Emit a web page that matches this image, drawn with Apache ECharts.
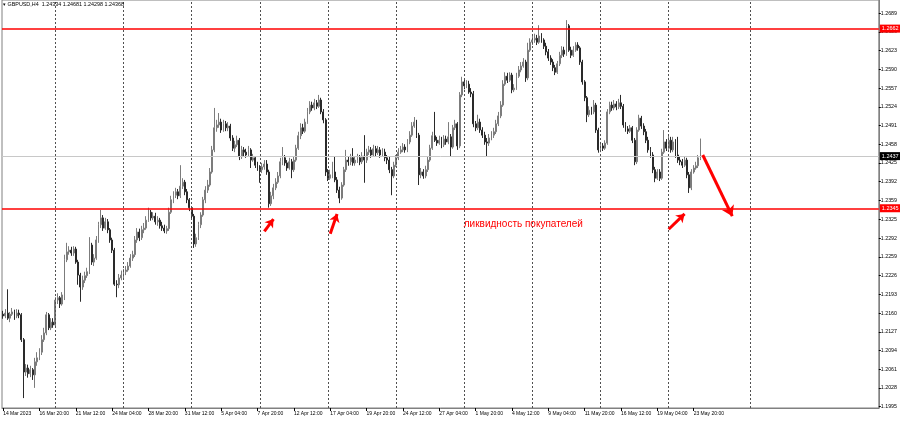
<!DOCTYPE html>
<html><head><meta charset="utf-8">
<script src="https://cdn.jsdelivr.net/npm/echarts@6/dist/echarts.min.js"></script>
<style>html,body{margin:0;padding:0;background:#fff}#c{width:900px;height:424px}</style>
</head><body><div id="c"></div>
<script>
const symbolName = 'GBPUSD,H4';
const headerQuote = [1.24334, 1.24681, 1.24298, 1.24368];

const open = [
1.2158,1.2155,1.2160,1.2151,1.2158,1.2162,1.2155,1.2160,1.2157,1.2113,
1.2056,1.2063,1.2053,1.2060,1.2051,1.2074,1.2081,1.2091,1.2113,1.2125,
1.2157,1.2134,1.2144,1.2139,1.2183,1.2187,1.2176,1.2192,1.2254,1.2268,
1.2271,1.2266,1.2273,1.2250,1.2227,1.2206,1.2218,1.2226,1.2233,1.2280,
1.2250,1.2257,1.2289,1.2316,1.2328,1.2310,1.2321,1.2307,1.2289,1.2271,
1.2211,1.2210,1.2222,1.2227,1.2233,1.2236,1.2243,1.2257,1.2263,1.2289,
1.2303,1.2293,1.2307,1.2310,1.2324,1.2338,1.2328,1.2331,1.2321,1.2324,
1.2314,1.2310,1.2305,1.2309,1.2338,1.2360,1.2368,1.2374,1.2367,1.2384,
1.2391,1.2374,1.2360,1.2346,1.2331,1.2282,1.2293,1.2316,1.2333,1.2360,
1.2377,1.2386,1.2409,1.2448,1.2487,1.2492,1.2497,1.2483,1.2494,1.2487,
1.2490,1.2469,1.2451,1.2457,1.2465,1.2436,1.2448,1.2444,1.2439,1.2448,
1.2430,1.2434,1.2421,1.2416,1.2413,1.2418,1.2423,1.2409,1.2353,1.2367,
1.2381,1.2391,1.2402,1.2427,1.2434,1.2425,1.2416,1.2427,1.2413,1.2430,
1.2451,1.2473,1.2487,1.2481,1.2497,1.2515,1.2527,1.2522,1.2531,1.2525,
1.2536,1.2515,1.2501,1.2409,1.2398,1.2404,1.2409,1.2395,1.2377,1.2363,
1.2386,1.2413,1.2430,1.2427,1.2434,1.2425,1.2430,1.2434,1.2427,1.2437,
1.2430,1.2444,1.2448,1.2439,1.2450,1.2443,1.2448,1.2439,1.2444,1.2434,
1.2430,1.2413,1.2402,1.2421,1.2434,1.2444,1.2448,1.2453,1.2448,1.2462,
1.2474,1.2490,1.2497,1.2474,1.2404,1.2409,1.2402,1.2413,1.2430,1.2451,
1.2473,1.2465,1.2460,1.2465,1.2457,1.2467,1.2462,1.2471,1.2453,1.2487,
1.2494,1.2455,1.2545,1.2568,1.2561,1.2564,1.2550,1.2547,1.2494,1.2487,
1.2497,1.2483,1.2474,1.2462,1.2460,1.2469,1.2474,1.2480,1.2494,1.2508,
1.2527,1.2564,1.2578,1.2571,1.2580,1.2554,1.2557,1.2578,1.2589,1.2596,
1.2603,1.2575,1.2624,1.2638,1.2642,1.2645,1.2638,1.2649,1.2642,1.2631,
1.2621,1.2610,1.2603,1.2593,1.2585,1.2600,1.2615,1.2624,1.2617,1.2667,
1.2624,1.2615,1.2624,1.2633,1.2628,1.2603,1.2568,1.2540,1.2510,1.2518,
1.2515,1.2527,1.2483,1.2448,1.2455,1.2451,1.2460,1.2515,1.2527,1.2522,
1.2529,1.2524,1.2531,1.2525,1.2492,1.2485,1.2481,1.2487,1.2465,1.2427,
1.2483,1.2504,1.2490,1.2480,1.2465,1.2448,1.2439,1.2413,1.2398,1.2409,
1.2398,1.2444,1.2462,1.2451,1.2465,1.2448,1.2462,1.2439,1.2430,1.2427,
1.2421,1.2430,1.2404,1.2381,1.2409,1.2416,1.2420,1.2433
];
const high = [
1.2164,1.2167,1.2202,1.2162,1.2169,1.2166,1.2167,1.2166,1.2160,1.2116,
1.2070,1.2069,1.2067,1.2063,1.2081,1.2091,1.2098,1.2121,1.2134,1.2162,
1.2160,1.2151,1.2151,1.2188,1.2195,1.2190,1.2197,1.2263,1.2284,1.2278,
1.2277,1.2278,1.2277,1.2254,1.2231,1.2226,1.2233,1.2240,1.2294,1.2284,
1.2264,1.2296,1.2321,1.2342,1.2333,1.2328,1.2326,1.2310,1.2293,1.2275,
1.2218,1.2229,1.2235,1.2238,1.2243,1.2250,1.2264,1.2270,1.2296,1.2310,
1.2309,1.2314,1.2319,1.2331,1.2346,1.2342,1.2338,1.2337,1.2331,1.2328,
1.2321,1.2316,1.2314,1.2346,1.2367,1.2375,1.2381,1.2379,1.2421,1.2398,
1.2395,1.2379,1.2363,1.2349,1.2335,1.2300,1.2321,1.2338,1.2365,1.2384,
1.2395,1.2416,1.2455,1.2522,1.2501,1.2513,1.2503,1.2501,1.2499,1.2497,
1.2494,1.2474,1.2464,1.2473,1.2469,1.2455,1.2453,1.2450,1.2455,1.2451,
1.2441,1.2437,1.2427,1.2421,1.2425,1.2430,1.2430,1.2413,1.2374,1.2388,
1.2398,1.2409,1.2434,1.2453,1.2439,1.2430,1.2434,1.2432,1.2437,1.2457,
1.2480,1.2495,1.2494,1.2503,1.2522,1.2534,1.2533,1.2538,1.2536,1.2545,
1.2540,1.2520,1.2504,1.2414,1.2413,1.2427,1.2436,1.2400,1.2383,1.2391,
1.2418,1.2448,1.2437,1.2441,1.2451,1.2437,1.2441,1.2439,1.2444,1.2474,
1.2450,1.2455,1.2453,1.2457,1.2455,1.2455,1.2453,1.2451,1.2450,1.2439,
1.2436,1.2418,1.2427,1.2439,1.2451,1.2455,1.2460,1.2458,1.2467,1.2481,
1.2497,1.2506,1.2501,1.2478,1.2416,1.2414,1.2420,1.2436,1.2457,1.2480,
1.2515,1.2471,1.2473,1.2471,1.2474,1.2473,1.2497,1.2476,1.2492,1.2501,
1.2497,1.2550,1.2577,1.2573,1.2571,1.2570,1.2557,1.2552,1.2499,1.2510,
1.2503,1.2488,1.2480,1.2469,1.2476,1.2481,1.2487,1.2501,1.2515,1.2534,
1.2571,1.2585,1.2584,1.2585,1.2584,1.2564,1.2584,1.2596,1.2603,1.2610,
1.2607,1.2637,1.2645,1.2649,1.2653,1.2651,1.2668,1.2654,1.2645,1.2637,
1.2626,1.2615,1.2608,1.2598,1.2605,1.2621,1.2631,1.2630,1.2677,1.2670,
1.2630,1.2631,1.2638,1.2638,1.2631,1.2607,1.2571,1.2543,1.2525,1.2524,
1.2536,1.2531,1.2487,1.2462,1.2460,1.2465,1.2520,1.2533,1.2533,1.2536,
1.2534,1.2538,1.2545,1.2529,1.2497,1.2490,1.2492,1.2490,1.2469,1.2488,
1.2510,1.2508,1.2495,1.2485,1.2471,1.2453,1.2444,1.2418,1.2414,1.2414,
1.2450,1.2483,1.2467,1.2473,1.2471,1.2471,1.2467,1.2471,1.2436,1.2432,
1.2436,1.2434,1.2409,1.2414,1.2421,1.2427,1.2439,1.2468
];
const low = [
1.2150,1.2151,1.2148,1.2144,1.2155,1.2148,1.2151,1.2151,1.2109,1.2010,
1.2049,1.2046,1.2047,1.2042,1.2028,1.2067,1.2077,1.2086,1.2109,1.2121,
1.2130,1.2130,1.2134,1.2137,1.2176,1.2169,1.2173,1.2183,1.2250,1.2263,
1.2261,1.2261,1.2247,1.2210,1.2180,1.2201,1.2213,1.2222,1.2229,1.2245,
1.2243,1.2254,1.2284,1.2310,1.2305,1.2307,1.2301,1.2284,1.2266,1.2208,
1.2188,1.2204,1.2218,1.2222,1.2227,1.2233,1.2240,1.2252,1.2259,1.2284,
1.2287,1.2289,1.2301,1.2307,1.2321,1.2323,1.2324,1.2316,1.2314,1.2309,
1.2305,1.2301,1.2300,1.2305,1.2335,1.2354,1.2363,1.2361,1.2363,1.2379,
1.2368,1.2354,1.2340,1.2326,1.2275,1.2277,1.2289,1.2310,1.2330,1.2354,
1.2372,1.2383,1.2406,1.2444,1.2480,1.2487,1.2478,1.2480,1.2481,1.2481,
1.2464,1.2446,1.2444,1.2453,1.2430,1.2432,1.2437,1.2434,1.2436,1.2416,
1.2427,1.2416,1.2411,1.2390,1.2407,1.2413,1.2404,1.2346,1.2349,1.2361,
1.2377,1.2388,1.2398,1.2421,1.2420,1.2411,1.2413,1.2398,1.2409,1.2427,
1.2448,1.2467,1.2476,1.2478,1.2494,1.2511,1.2517,1.2518,1.2520,1.2522,
1.2511,1.2495,1.2402,1.2393,1.2395,1.2398,1.2391,1.2372,1.2354,1.2360,
1.2383,1.2409,1.2420,1.2421,1.2420,1.2420,1.2425,1.2421,1.2423,1.2390,
1.2425,1.2439,1.2434,1.2436,1.2437,1.2439,1.2434,1.2436,1.2428,1.2423,
1.2407,1.2368,1.2398,1.2418,1.2430,1.2441,1.2444,1.2443,1.2444,1.2458,
1.2471,1.2487,1.2469,1.2386,1.2398,1.2397,1.2398,1.2409,1.2427,1.2448,
1.2462,1.2455,1.2457,1.2451,1.2453,1.2457,1.2458,1.2436,1.2450,1.2483,
1.2448,1.2451,1.2541,1.2555,1.2557,1.2547,1.2541,1.2488,1.2481,1.2483,
1.2478,1.2469,1.2457,1.2436,1.2455,1.2465,1.2469,1.2476,1.2490,1.2504,
1.2524,1.2561,1.2566,1.2568,1.2548,1.2550,1.2554,1.2575,1.2585,1.2593,
1.2568,1.2571,1.2621,1.2633,1.2637,1.2633,1.2635,1.2637,1.2626,1.2615,
1.2605,1.2598,1.2587,1.2580,1.2582,1.2596,1.2610,1.2612,1.2614,1.2621,
1.2610,1.2612,1.2621,1.2623,1.2598,1.2563,1.2534,1.2497,1.2506,1.2510,
1.2511,1.2478,1.2443,1.2444,1.2446,1.2448,1.2457,1.2511,1.2517,1.2518,
1.2518,1.2520,1.2520,1.2487,1.2480,1.2476,1.2478,1.2460,1.2421,1.2423,
1.2480,1.2485,1.2474,1.2460,1.2443,1.2434,1.2407,1.2391,1.2395,1.2393,
1.2395,1.2441,1.2446,1.2448,1.2443,1.2444,1.2434,1.2425,1.2421,1.2416,
1.2418,1.2398,1.2372,1.2377,1.2406,1.2413,1.2416,1.2430
];
const close = [
1.2155,1.2160,1.2151,1.2158,1.2162,1.2155,1.2160,1.2157,1.2113,1.2056,
1.2063,1.2053,1.2060,1.2051,1.2074,1.2081,1.2091,1.2113,1.2125,1.2157,
1.2134,1.2144,1.2139,1.2183,1.2187,1.2176,1.2192,1.2254,1.2268,1.2271,
1.2266,1.2273,1.2250,1.2227,1.2206,1.2218,1.2226,1.2233,1.2280,1.2250,
1.2257,1.2289,1.2316,1.2328,1.2310,1.2321,1.2307,1.2289,1.2271,1.2211,
1.2210,1.2222,1.2227,1.2233,1.2236,1.2243,1.2257,1.2263,1.2289,1.2303,
1.2293,1.2307,1.2310,1.2324,1.2338,1.2328,1.2331,1.2321,1.2324,1.2314,
1.2310,1.2305,1.2309,1.2338,1.2360,1.2368,1.2374,1.2367,1.2384,1.2391,
1.2374,1.2360,1.2346,1.2331,1.2282,1.2293,1.2316,1.2333,1.2360,1.2377,
1.2386,1.2409,1.2448,1.2487,1.2492,1.2497,1.2483,1.2494,1.2487,1.2490,
1.2469,1.2451,1.2457,1.2465,1.2436,1.2448,1.2444,1.2439,1.2448,1.2430,
1.2434,1.2421,1.2416,1.2413,1.2418,1.2423,1.2409,1.2353,1.2367,1.2381,
1.2391,1.2402,1.2427,1.2434,1.2425,1.2416,1.2427,1.2413,1.2430,1.2451,
1.2473,1.2487,1.2481,1.2497,1.2515,1.2527,1.2522,1.2531,1.2525,1.2536,
1.2515,1.2501,1.2409,1.2398,1.2404,1.2409,1.2395,1.2377,1.2363,1.2386,
1.2413,1.2430,1.2427,1.2434,1.2425,1.2430,1.2434,1.2427,1.2437,1.2430,
1.2444,1.2448,1.2439,1.2450,1.2443,1.2448,1.2439,1.2444,1.2434,1.2430,
1.2413,1.2402,1.2421,1.2434,1.2444,1.2448,1.2453,1.2448,1.2462,1.2474,
1.2490,1.2497,1.2474,1.2404,1.2409,1.2402,1.2413,1.2430,1.2451,1.2473,
1.2465,1.2460,1.2465,1.2457,1.2467,1.2462,1.2471,1.2453,1.2487,1.2494,
1.2455,1.2545,1.2568,1.2561,1.2564,1.2550,1.2547,1.2494,1.2487,1.2497,
1.2483,1.2474,1.2462,1.2460,1.2469,1.2474,1.2480,1.2494,1.2508,1.2527,
1.2564,1.2578,1.2571,1.2580,1.2554,1.2557,1.2578,1.2589,1.2596,1.2603,
1.2575,1.2624,1.2638,1.2642,1.2645,1.2638,1.2649,1.2642,1.2631,1.2621,
1.2610,1.2603,1.2593,1.2585,1.2600,1.2615,1.2624,1.2617,1.2667,1.2624,
1.2615,1.2624,1.2633,1.2628,1.2603,1.2568,1.2540,1.2510,1.2518,1.2515,
1.2527,1.2483,1.2448,1.2455,1.2451,1.2460,1.2515,1.2527,1.2522,1.2529,
1.2524,1.2531,1.2525,1.2492,1.2485,1.2481,1.2487,1.2465,1.2427,1.2483,
1.2504,1.2490,1.2480,1.2465,1.2448,1.2439,1.2413,1.2398,1.2409,1.2398,
1.2444,1.2462,1.2451,1.2465,1.2448,1.2462,1.2439,1.2430,1.2427,1.2421,
1.2430,1.2404,1.2381,1.2409,1.2416,1.2420,1.2434,1.2437
];

const slotCount = 386; // bars + empty future slots on the time axis
const tickIdx = [0,16,32,48,64,80,96,112,128,144,160,176,192,208,224,240,256,272,288,304];
const tickLabels = ['14 Mar 2023','16 Mar 20:00','21 Mar 12:00','24 Mar 04:00','28 Mar 20:00',
  '31 Mar 12:00','5 Apr 04:00','7 Apr 20:00','12 Apr 12:00','17 Apr 04:00','19 Apr 20:00',
  '24 Apr 12:00','27 Apr 04:00','1 May 20:00','4 May 12:00','9 May 04:00','11 May 20:00',
  '16 May 12:00','19 May 04:00','23 May 20:00'];
const weekSepIdx = [23,53,83,113,143,173,203,233,263,293,329];
const priceTicks = [1.2689,1.2656,1.2623,1.2590,1.2557,1.2524,1.2491,1.2458,1.2425,1.2392,
  1.2359,1.2325,1.2292,1.2259,1.2226,1.2193,1.2160,1.2127,1.2094,1.2061,1.2028,1.1995];
const levels = [1.2662, 1.2345];
const annotationText = 'ликвидность покупателей';
const annotationPos = [229, 1.2317];
const smallArrows = [
  [[114.7, 1.2304], [118.8, 1.2326]],
  [[144.1, 1.2300], [147.1, 1.2335]],
  [[293.2, 1.2308], [299.5, 1.2335]]
];
const bigArrow = [[307.9, 1.2439], [321.1, 1.2331]];

const categories = Array.from({length: slotCount}, (_, i) => String(i));
const candles = open.map((o, i) => [o, close[i], low[i], high[i]]);
const lastClose = close[close.length - 1];
const FONT = 'Liberation Sans';

const markData = [];
weekSepIdx.forEach(ix => markData.push({
  xAxis: String(ix),
  lineStyle: {color: '#505050', width: 1, type: [2, 2]},
  label: {show: false}
}));
markData.push({
  yAxis: lastClose,
  lineStyle: {color: '#c8c8c8', width: 1, type: 'solid'},
  label: {show: true, position: 'end', distance: 1, formatter: p => p.value.toFixed(4),
    backgroundColor: '#000', color: '#fff', fontSize: 5.5, fontFamily: FONT, padding: [1, 2, 1, 2]}
});
levels.forEach(v => markData.push({
  yAxis: v,
  lineStyle: {color: '#ff0000', width: 1.5, type: 'solid'},
  label: {show: true, position: 'end', distance: 1, formatter: p => p.value.toFixed(4),
    backgroundColor: '#ff0000', color: '#fff', fontSize: 5.5, fontFamily: FONT, padding: [1, 2, 1, 2]}
}));
const arrowStyle = w => ({color: '#ff0000', width: w, type: 'solid'});
smallArrows.forEach(a => markData.push([
  {coord: a[0], symbol: 'none', lineStyle: arrowStyle(3), label: {show: false}},
  {coord: a[1], symbol: 'arrow', symbolSize: 8, lineStyle: arrowStyle(3)}
]));
markData.push([
  {coord: bigArrow[0], symbol: 'none', lineStyle: arrowStyle(3), label: {show: false}},
  {coord: bigArrow[1], symbol: 'arrow', symbolSize: 10, lineStyle: arrowStyle(3)}
]);

const chart = echarts.init(document.getElementById('c'), null, {renderer: 'canvas'});
chart.setOption({
  animation: false,
  backgroundColor: '#ffffff',
  title: {
    text: '\u25BE ' + symbolName + '  ' + headerQuote.map(v => v.toFixed(5)).join(' '),
    left: 3, top: 2, padding: 0,
    textStyle: {fontSize: 5.4, fontWeight: 'normal', color: '#000', fontFamily: FONT}
  },
  grid: {left: 2, right: 20, top: 0, bottom: 16, show: true, borderColor: '#808080', borderWidth: 1, backgroundColor: '#fff'},
  xAxis: {
    type: 'category', data: categories, boundaryGap: true,
    axisLine: {show: true, lineStyle: {color: '#808080'}},
    axisTick: {show: true, alignWithLabel: true, length: 3, interval: (i) => tickIdx.includes(i), lineStyle: {color: '#000'}},
    axisLabel: {show: true, interval: (i) => tickIdx.includes(i), formatter: (v, i) => tickLabels[tickIdx.indexOf(Number(v))],
      align: 'left', margin: 3, fontSize: 5, color: '#000', fontFamily: FONT},
    splitLine: {show: false}
  },
  yAxis: {
    type: 'value', position: 'right', scale: true, min: 1.19925, max: 1.27125,
    axisLine: {show: true, lineStyle: {color: '#808080'}},
    axisTick: {show: true, length: 2, customValues: priceTicks, lineStyle: {color: '#000'}},
    axisLabel: {show: true, customValues: priceTicks, formatter: v => v.toFixed(4), fontSize: 5.3, color: '#000', margin: 2, fontFamily: FONT},
    splitLine: {show: false}
  },
  series: [{
    type: 'candlestick',
    data: candles,
    barWidth: 1.4,
    itemStyle: {color: '#b4b4b4', color0: '#111111', borderColor: '#7c7c7c', borderColor0: '#2a2a2a', borderWidth: 1},
    markLine: {silent: true, animation: false, symbol: ['none', 'none'], precision: 4, data: markData},
    markPoint: {
      silent: true, animation: false,
      data: [{coord: annotationPos, symbol: 'circle', symbolSize: 0,
        label: {show: true, position: 'inside', formatter: annotationText, color: '#ff0000', fontSize: 10, fontFamily: FONT}}]
    }
  }]
});
</script>
</body></html>
